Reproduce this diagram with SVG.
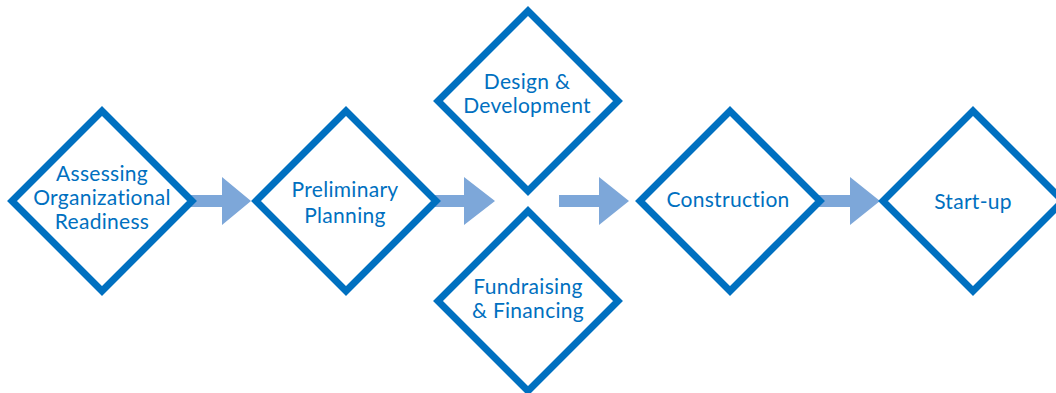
<svg xmlns="http://www.w3.org/2000/svg" width="1056" height="393" viewBox="0 0 1056 393">
  <style>
    .step { fill: #ffffff; stroke: #0070C0; stroke-width: 7; stroke-linejoin: miter; }
    .flow { fill: #7DA7D9; stroke: none; }
    .label { font-family: "Lato", "Liberation Sans", sans-serif; font-size: 21px; letter-spacing: 0.3px; fill: #0070C0; text-anchor: middle; }
  </style>
  <defs>
    <polygon id="diamond" points="0,-90 90,0 0,90 -90,0"/>
  </defs>
  <rect width="1056" height="393" fill="#ffffff"/>

  <!-- block arrows between the stages -->
  <g id="connectors">
    <polygon class="flow" points="190,195 222,195 222,177 251,201 222,225 222,207 190,207"/>
    <polygon class="flow" points="435,195 464,195 464,177 495,201 464,225 464,207 435,207"/>
    <polygon class="flow" points="559,195 599,195 599,177 629,201 599,225 599,207 559,207"/>
    <polygon class="flow" points="818,195 850,195 850,177 880,201 850,225 850,207 818,207"/>
  </g>

  <g id="assessing">
    <use href="#diamond" class="step" transform="translate(102,201)"/>
    <text class="label" x="102" y="181">Assessing</text>
    <text class="label" x="102" y="205">Organizational</text>
    <text class="label" x="102" y="229">Readiness</text>
  </g>

  <g id="preliminary">
    <use href="#diamond" class="step" transform="translate(346,201)"/>
    <text class="label" x="345" y="197">Preliminary</text>
    <text class="label" x="345" y="223">Planning</text>
  </g>

  <g id="design">
    <use href="#diamond" class="step" transform="translate(528,101)"/>
    <text class="label" x="527" y="89">Design &amp;</text>
    <text class="label" x="527" y="113">Development</text>
  </g>

  <g id="fundraising">
    <use href="#diamond" class="step" transform="translate(528,301)"/>
    <text class="label" x="528" y="294">Fundraising</text>
    <text class="label" x="528" y="318">&amp; Financing</text>
  </g>

  <g id="construction">
    <use href="#diamond" class="step" transform="translate(730,201)"/>
    <text class="label" x="728" y="207">Construction</text>
  </g>

  <g id="startup">
    <use href="#diamond" class="step" transform="translate(973,201)"/>
    <text class="label" x="973" y="209">Start-up</text>
  </g>
</svg>
